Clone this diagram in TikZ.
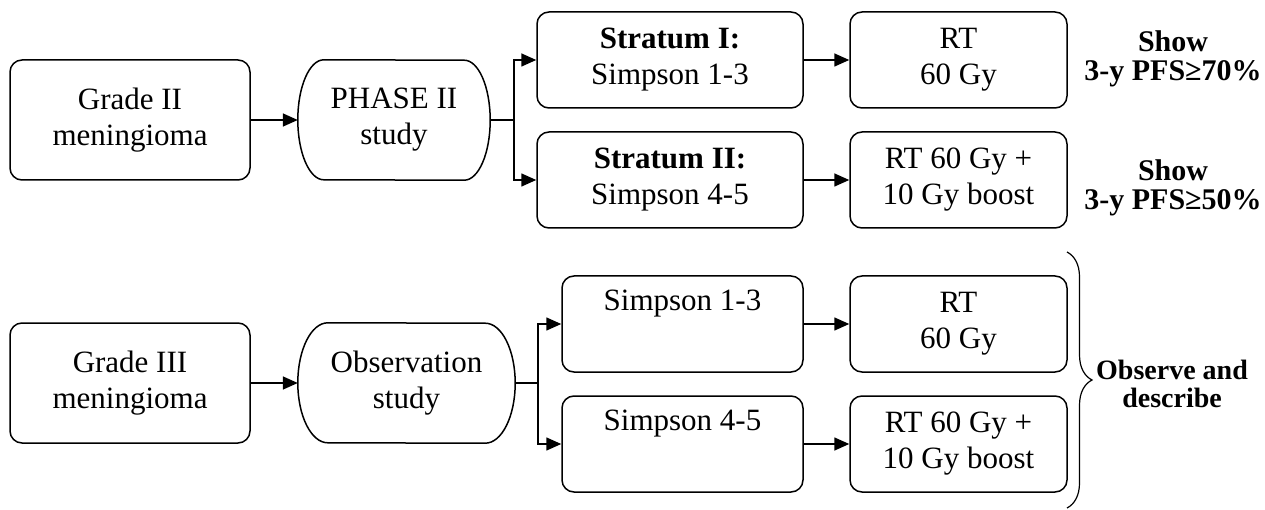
\documentclass[tikz,border=0pt]{standalone}
\usepackage{fontspec}
\setmainfont{Liberation Serif}
\usetikzlibrary{arrows.meta,decorations.pathreplacing}
\begin{document}
\begin{tikzpicture}[x=1pt,y=-1pt,
  box/.style={draw, line width=1.5pt, rounded corners=12pt, align=center, inner sep=0pt, font=\fontsize{31}{36}\selectfont},
  stad/.style={align=center, inner sep=0pt, minimum height=120pt, font=\fontsize{31}{36}\selectfont},
  stadline/.style={line width=1.5pt},
  side/.style={align=center, inner sep=0pt, font=\fontsize{30}{29}\selectfont\bfseries},
  obsside/.style={align=center, inner sep=0pt, font=\fontsize{28}{28}\selectfont\bfseries},
  conn/.style={line width=1.6pt, -{Triangle[length=15pt,width=13pt]}},
  wire/.style={line width=1.6pt}
]
\useasboundingbox (0,0) rectangle (1265,510);

% top row
\node[box, minimum width=240pt, minimum height=120pt] (g2) at (130,120) {Grade II\\meningioma};
\node[stad, minimum width=192pt] (p2) at (394,120) {PHASE II\\study};
\draw[stadline] ([xshift=26pt]p2.north west) arc[start angle=90, end angle=270, x radius=26pt, y radius=60pt]
  -- ([xshift=-26pt]p2.south east) arc[start angle=-90, end angle=90, x radius=26pt, y radius=60pt] -- cycle;
\node[box, minimum width=266pt, minimum height=96pt] (s1) at (670,60) {\textbf{Stratum I:}\\Simpson 1-3};
\node[box, minimum width=266pt, minimum height=96pt] (s2) at (670,180) {\textbf{Stratum II:}\\Simpson 4-5};
\node[box, minimum width=217pt, minimum height=96pt] (r1) at (958.5,60) {RT\\60 Gy};
\node[box, minimum width=217pt, minimum height=96pt] (r2) at (958.5,180) {RT 60 Gy +\\10 Gy boost};
\node[side] (sh1) at (1173,59) {Show\\3-y PFS≥70\%};
\node[side] (sh2) at (1173,188) {Show\\3-y PFS≥50\%};
\coordinate (br1) at (514,120);

\draw[conn] (g2.east) -- (p2.west);
\draw[wire] (p2.east) -- (br1);
\draw[conn] (br1) |- (s1.west);
\draw[conn] (br1) |- (s2.west);
\draw[conn] (s1.east) -- (r1.west);
\draw[conn] (s2.east) -- (r2.west);

% bottom row
\node[box, minimum width=240pt, minimum height=120pt] (g3) at (130,383) {Grade III\\meningioma};
\node[stad, minimum width=217pt] (o3) at (406.5,383) {Observation\\study};
\draw[stadline] ([xshift=30pt]o3.north west) arc[start angle=90, end angle=270, x radius=30pt, y radius=60pt]
  -- ([xshift=-30pt]o3.south east) arc[start angle=-90, end angle=90, x radius=30pt, y radius=60pt] -- cycle;
\node[box, minimum width=241pt, minimum height=96pt] (b1) at (682.5,324) {Simpson 1-3\\\strut};
\node[box, minimum width=241pt, minimum height=96pt] (b2) at (682.5,444) {Simpson 4-5\\\strut};
\node[box, minimum width=217pt, minimum height=96pt] (r3) at (958.5,324) {RT\\60 Gy};
\node[box, minimum width=217pt, minimum height=96pt] (r4) at (958.5,444) {RT 60 Gy +\\10 Gy boost};
\coordinate (br2) at (538,383);

\draw[conn] (g3.east) -- (o3.west);
\draw[wire] (o3.east) -- (br2);
\draw[conn] (br2) |- (b1.west);
\draw[conn] (br2) |- (b2.west);
\draw[conn] (b1.east) -- (r3.west);
\draw[conn] (b2.east) -- (r4.west);

\coordinate (bt) at (1067,252);
\coordinate (bb) at (1067,508);
\draw[line width=1.2pt, decorate, decoration={brace, amplitude=25pt}] (bt) -- (bb);
\node[obsside] (obs) at (1172,384) {Observe and\\describe};
\end{tikzpicture}
\end{document}
